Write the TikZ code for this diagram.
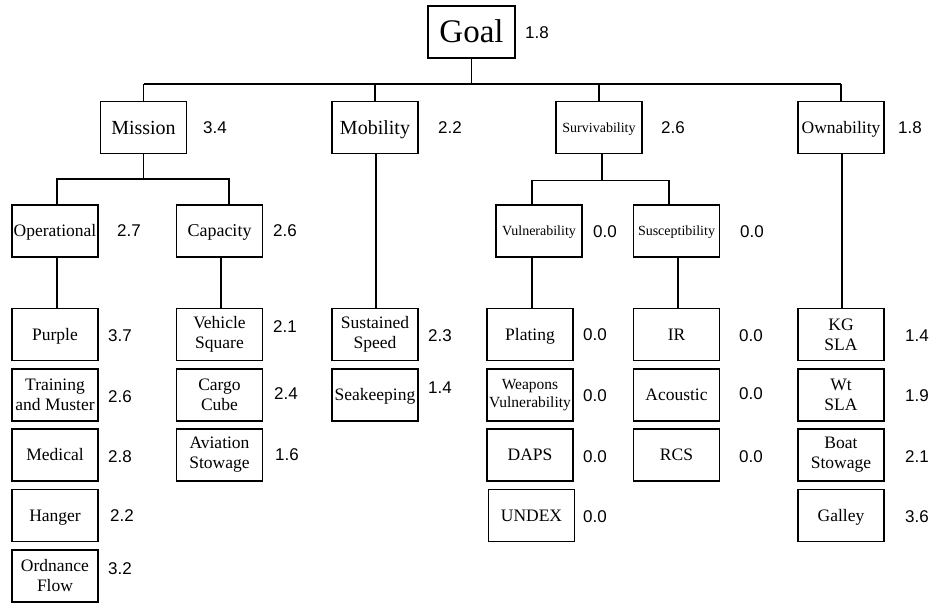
\documentclass[tikz,border=0pt]{standalone}
\usepackage{fontspec}
\setmainfont{Liberation Serif}
\newfontfamily\valfont{Liberation Sans}
\usetikzlibrary{calc}
\begin{document}
\begin{tikzpicture}[x=1pt,y=-1pt,
  box/.style={draw, line width=1.2pt, inner sep=0pt, minimum width=86pt, minimum height=52pt, font=\fontsize{17.5}{20}\selectfont, text height=12.25pt, text depth=0.7pt},
  two/.style={draw, line width=1.2pt, inner sep=0pt, minimum width=86pt, minimum height=52pt, align=center, font=\fontsize{17.5}{20}\selectfont},
  lvlone/.style={box, font=\fontsize{20}{22}\selectfont, text height=14pt, text depth=0.8pt},
  lvltwo/.style={box, font=\fontsize{18}{20}\selectfont, text height=12.6pt, text depth=0.72pt},
  smallbox/.style={box, font=\fontsize{14}{16}\selectfont, text height=9.8pt, text depth=0.56pt},
  val/.style={anchor=west, inner sep=0pt, font=\valfont\fontsize{17}{20}\selectfont},
  conn/.style={line width=1.2pt}]
\useasboundingbox[fill=white] (0,0) rectangle (932,603);

% top
\node[box, minimum width=87pt, font=\fontsize{33}{36}\selectfont, text height=23.1pt, text depth=1.3pt] (goal) at (471.5,32) {Goal};
\node[val] (vgoal) at (525,33) {1.8};

% level 1
\node[lvlone] (mission) at (143.5,127.5) {Mission};
\node[lvlone] (mob) at (375,127.5) {Mobility};
\node[smallbox] (surv) at (599,127.5) {Survivability};
\node[box] (own) at (841,127.5) {Ownability};
\node[val] (vmission) at (203,128) {3.4};
\node[val] (vmob) at (438,128) {2.2};
\node[val] (vsurv) at (661,128) {2.6};
\node[val] (vown) at (898,128) {1.8};

% level 2
\node[box] (op) at (55,231) {Operational};
\node[lvltwo] (cap) at (219.5,231) {Capacity};
\node[smallbox] (vul) at (539,231) {Vulnerability};
\node[smallbox] (sus) at (676.5,231) {Susceptibility};
\node[val] (vop) at (117,231) {2.7};
\node[val] (vcap) at (273,231) {2.6};
\node[val] (vvul) at (593,232) {0.0};
\node[val] (vsus) at (740,232) {0.0};

% level 3 - Operational
\node[box] (purple) at (55,334.5) {Purple};
\node[two] (train) at (55,395) {Training\\and Muster};
\node[box] (medical) at (55,455) {Medical};
\node[box] (hanger) at (55,515.5) {Hanger};
\node[two] (ord) at (55,576) {Ordnance\\Flow};
\node[val] (vpurple) at (108,336) {3.7};
\node[val] (vtrain) at (108,397) {2.6};
\node[val] (vmedical) at (108,457) {2.8};
\node[val] (vhanger) at (110,516) {2.2};
\node[val] (vord) at (108,569) {3.2};

% Capacity
\node[two] (vs) at (219.5,334.5) {Vehicle\\Square};
\node[two] (cc) at (219.5,395) {Cargo\\Cube};
\node[two] (as) at (219.5,455) {Aviation\\Stowage};
\node[val] (vvs) at (273,327) {2.1};
\node[val] (vcc) at (274,394) {2.4};
\node[val] (vas) at (275,455) {1.6};

% Mobility
\node[two] (ss) at (375,334.5) {Sustained\\Speed};
\node[box] (sk) at (375,395) {Seakeeping};
\node[val] (vss) at (428,336) {2.3};
\node[val] (vsk) at (428,388) {1.4};

% Vulnerability
\node[box] (plating) at (530,334.5) {Plating};
\node[two, font=\fontsize{15.5}{17.5}\selectfont] (wv) at (530,395) {Weapons\\Vulnerability};
\node[box] (daps) at (530,455) {DAPS};
\node[box] (undex) at (531.5,515.5) {UNDEX};
\node[val] (vplating) at (583,335) {0.0};
\node[val] (vwv) at (583,396) {0.0};
\node[val] (vdaps) at (583,457) {0.0};
\node[val] (vundex) at (583,517) {0.0};

% Susceptibility
\node[box] (ir) at (676.5,334.5) {IR};
\node[box] (ac) at (676.5,395) {Acoustic};
\node[box] (rcs) at (676.5,455) {RCS};
\node[val] (vir) at (739,336) {0.0};
\node[val] (vac) at (739,394) {0.0};
\node[val] (vrcs) at (739,457) {0.0};

% Ownability
\node[two] (kg) at (841,334.5) {KG\\SLA};
\node[two] (wt) at (841,395) {Wt\\SLA};
\node[two] (boat) at (841,455) {Boat\\Stowage};
\node[box] (galley) at (841,515.5) {Galley};
\node[val] (vkg) at (905,336) {1.4};
\node[val] (vwt) at (905,396) {1.9};
\node[val] (vboat) at (905,457) {2.1};
\node[val] (vgalley) at (905,517) {3.6};

% connectors
\coordinate (j0) at (471.5,84);
\draw[conn] (goal.south) -- (j0);
\draw[conn] (mission.north |- j0) -- (own.north |- j0);
\foreach \n in {mission,mob,surv,own} \draw[conn] (\n.north) -- (\n.north |- j0);

\coordinate (j1) at (143.5,179);
\draw[conn] (mission.south) -- (j1);
\coordinate (opt) at ($(op.north)+(2,0)$);
\coordinate (capt) at ($(cap.north)+(9.5,0)$);
\draw[conn] (opt) -- (opt |- j1) -- (capt |- j1) -- (capt);
\draw[conn] ($(op.south)+(2,0)$) -- ($(purple.north)+(2,0)$);
\draw[conn] ($(cap.south)+(1.5,0)$) -- ($(vs.north)+(1.5,0)$);

\draw[conn] ($(mob.south)+(1,0)$) -- ($(ss.north)+(1,0)$);

\coordinate (j2) at ($(surv.south)+(3,26)$);
\draw[conn] ($(surv.south)+(3,0)$) -- (j2);
\coordinate (vult) at ($(vul.north)+(-7,0)$);
\coordinate (sust) at ($(sus.north)+(-7.5,0)$);
\draw[conn] (vult) -- (vult |- j2) -- (sust |- j2) -- (sust);
\draw[conn] ($(vul.south)+(-7,0)$) -- ($(plating.north)+(2,0)$);
\draw[conn] ($(sus.south)+(1.5,0)$) -- ($(ir.north)+(1.5,0)$);

\draw[conn] ($(own.south)+(1,0)$) -- ($(kg.north)+(1,0)$);
\end{tikzpicture}
\end{document}
